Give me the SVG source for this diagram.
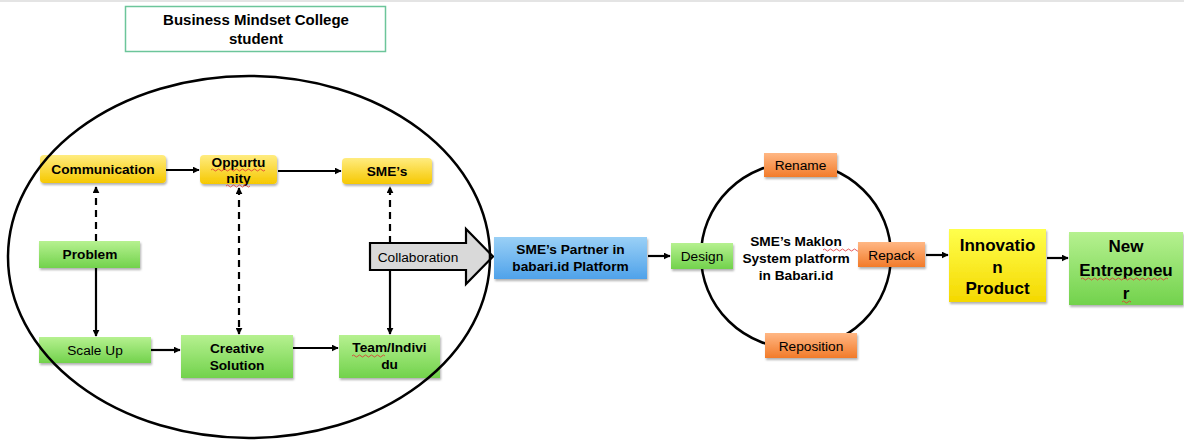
<svg xmlns="http://www.w3.org/2000/svg" width="1184" height="442" viewBox="0 0 1184 442">
<defs>
<linearGradient id="gY" x1="0" y1="0" x2="0" y2="1"><stop offset="0" stop-color="#ffec80"/><stop offset="1" stop-color="#f6c800"/></linearGradient>
<linearGradient id="gY2" x1="0" y1="0" x2="0" y2="1"><stop offset="0" stop-color="#ffff4d"/><stop offset="1" stop-color="#f4d800"/></linearGradient>
<linearGradient id="gG" x1="0" y1="0" x2="0" y2="1"><stop offset="0" stop-color="#b6f190"/><stop offset="1" stop-color="#72d24c"/></linearGradient>
<linearGradient id="gO" x1="0" y1="0" x2="0" y2="1"><stop offset="0" stop-color="#ffb784"/><stop offset="1" stop-color="#f27b2a"/></linearGradient>
<linearGradient id="gB" x1="0" y1="0" x2="0" y2="1"><stop offset="0" stop-color="#9ad0f6"/><stop offset="1" stop-color="#4fa2ea"/></linearGradient>
<filter id="sh" x="-10%" y="-10%" width="130%" height="140%"><feDropShadow dx="1" dy="2" stdDeviation="1.2" flood-color="#000" flood-opacity="0.3"/></filter>
<marker id="ah" viewBox="0 0 10 10" refX="9" refY="5" markerWidth="7" markerHeight="7" markerUnits="userSpaceOnUse" orient="auto-start-reverse"><path d="M0,0 L10,5 L0,10 z" fill="#000"/></marker>
</defs>
<style>
.t{font-family:"Liberation Sans",Arial,sans-serif;fill:#000;text-anchor:middle}
.b{font-weight:bold}
.s13{font-size:13.7px}
.s15{font-size:15px}
.s17{font-size:17px}
.c{stroke:#000;stroke-width:2.2;fill:none}
.d{stroke-dasharray:7,5}
.bx{filter:url(#sh)}
.sq{stroke:#e03030;stroke-width:0.8;fill:none}
</style>
<rect x="0" y="0" width="1184" height="2" fill="#e4e4e4"/>

<g id="title">
<rect x="125.5" y="6.5" width="260" height="45" fill="#fff" stroke="#6cc59a" stroke-width="1.5"/>
<text class="t b s15" x="256" y="25">Business Mindset College</text>
<text class="t b s15" x="256" y="43.5">student</text>
</g>

<g id="platform-circle">
<ellipse cx="796" cy="255.5" rx="95" ry="93" fill="none" stroke="#000" stroke-width="2.5"/>
<text class="t b s13" x="796" y="246">SME’s Maklon</text>
<text class="t b s13" x="796" y="263">System platform</text>
<text class="t b s13" x="796" y="280">in Babari.id</text>
<path class="sq" d="M823,250 q1.5,-2 3,0 t3,0 t3,0 t3,0 t3,0 t3,0 t3,0 t3,0 t3,0 t3,0 t3,0 t3,0 t3,0"/>
</g>

<g id="connectors">
<line class="c" x1="166" y1="170" x2="199" y2="170" marker-end="url(#ah)"/>
<line class="c" x1="278" y1="171" x2="341" y2="171" marker-end="url(#ah)"/>
<line class="c d" x1="96" y1="241" x2="96" y2="187" marker-end="url(#ah)"/>
<line class="c d" x1="239" y1="188" x2="239" y2="334" marker-start="url(#ah)" marker-end="url(#ah)"/>
<line class="c d" x1="390" y1="243" x2="390" y2="187" marker-end="url(#ah)"/>
<line class="c" x1="390" y1="270" x2="390" y2="334" marker-end="url(#ah)"/>
<line class="c" x1="96" y1="268" x2="96" y2="336" marker-end="url(#ah)"/>
<line class="c" x1="151" y1="350" x2="180" y2="350" marker-end="url(#ah)"/>
<line class="c" x1="293" y1="348" x2="338" y2="348" marker-end="url(#ah)"/>
<line class="c" x1="648" y1="256" x2="670" y2="256" marker-end="url(#ah)"/>
<line class="c" x1="926" y1="255" x2="948" y2="255" marker-end="url(#ah)"/>
<line class="c" x1="1047" y1="258" x2="1068" y2="258" marker-end="url(#ah)"/>
</g>

<g id="communication">
<rect class="bx" x="40" y="155" width="126" height="28" rx="4" fill="url(#gY)"/>
<text class="t b s13" x="103" y="174">Communication</text>
</g>
<g id="oppurtunity">
<rect class="bx" x="200" y="155" width="77" height="29" rx="4" fill="url(#gY)"/>
<text class="t b s13" x="238.5" y="167">Oppurtu</text>
<text class="t b s13" x="238.5" y="183">nity</text>
<path class="sq" d="M211,170 q1.5,-2 3,0 t3,0 t3,0 t3,0 t3,0 t3,0 t3,0 t3,0 t3,0 t3,0 t3,0 t3,0 t3,0 t3,0 t3,0 t3,0 t3,0 t3,0"/>
<path class="sq" d="M226,186 q1.5,-2 3,0 t3,0 t3,0 t3,0 t3,0 t3,0 t3,0 t3,0"/>
</g>
<g id="smes">
<rect class="bx" x="342" y="158" width="90" height="26" rx="4" fill="url(#gY)"/>
<text class="t b s13" x="387" y="175.5">SME’s</text>
</g>
<g id="problem">
<rect class="bx" x="39" y="241" width="101" height="27" fill="url(#gG)"/>
<text class="t b s13" x="90" y="259">Problem</text>
</g>
<g id="scale-up">
<rect class="bx" x="39" y="337" width="112" height="26" fill="url(#gG)"/>
<text class="t s13" x="95" y="355">Scale Up</text>
</g>
<g id="creative-solution">
<rect class="bx" x="181" y="335" width="112" height="43" fill="url(#gG)"/>
<text class="t b s13" x="237" y="353">Creative</text>
<text class="t b s13" x="237" y="370">Solution</text>
</g>
<g id="team-individu">
<rect class="bx" x="339" y="335" width="101" height="43" fill="url(#gG)"/>
<text class="t b s13" x="389.5" y="352">Team/Indivi</text>
<text class="t b s13" x="389.5" y="369">du</text>
<path class="sq" d="M352,356 q1.5,-2 3,0 t3,0 t3,0 t3,0 t3,0 t3,0 t3,0 t3,0 t3,0 t3,0 t3,0"/>
</g>

<g id="collaboration">
<path d="M370,243 H466 V229 L493,256.5 L466,284 V270 H370 Z" fill="#d9d9d9" stroke="#000" stroke-width="2.2" stroke-linejoin="miter"/>
<text class="t s13" x="418" y="261.5" fill="#333">Collaboration</text>
</g>

<g id="outer-ellipse">
<ellipse cx="249" cy="257" rx="241" ry="181" fill="none" stroke="#000" stroke-width="2.5"/>
</g>

<g id="smes-partner">
<rect class="bx" x="494" y="237" width="153" height="42" fill="url(#gB)"/>
<text class="t b s13" x="570.5" y="254">SME’s Partner in</text>
<text class="t b s13" x="570.5" y="271">babari.id Platform</text>
</g>
<g id="design">
<rect class="bx" x="671" y="243" width="62" height="26" fill="url(#gG)"/>
<text class="t s13" x="702" y="261">Design</text>
</g>
<g id="rename">
<rect class="bx" x="764" y="153" width="73" height="24" fill="url(#gO)"/>
<text class="t s13" x="800.5" y="170">Rename</text>
</g>
<g id="repack">
<rect class="bx" x="858" y="242" width="67" height="25" fill="url(#gO)"/>
<text class="t s13" x="891.5" y="259.5">Repack</text>
</g>
<g id="reposition">
<rect class="bx" x="765" y="333" width="92" height="25" fill="url(#gO)"/>
<text class="t s13" x="811" y="351">Reposition</text>
</g>
<g id="innovation-product">
<rect class="bx" x="949" y="229" width="97" height="73" fill="url(#gY2)"/>
<text class="t b s17" x="997.5" y="251">Innovatio</text>
<text class="t b s17" x="997.5" y="273">n</text>
<text class="t b s17" x="997.5" y="294">Product</text>
</g>
<g id="new-entrepeneur">
<rect class="bx" x="1069" y="232" width="114" height="73" fill="url(#gG)"/>
<text class="t b s17" x="1126" y="252">New</text>
<text class="t b s17" x="1126" y="276">Entrepeneu</text>
<text class="t b s17" x="1126" y="299">r</text>
<path class="sq" d="M1081,279 q1.5,-2 3,0 t3,0 t3,0 t3,0 t3,0 t3,0 t3,0 t3,0 t3,0 t3,0 t3,0 t3,0 t3,0 t3,0 t3,0 t3,0 t3,0 t3,0 t3,0 t3,0 t3,0 t3,0 t3,0 t3,0 t3,0 t3,0 t3,0 t3,0 t3,0"/>
<path class="sq" d="M1122,302 q1.5,-2 3,0 t3,0 t3,0"/>
</g>
</svg>
